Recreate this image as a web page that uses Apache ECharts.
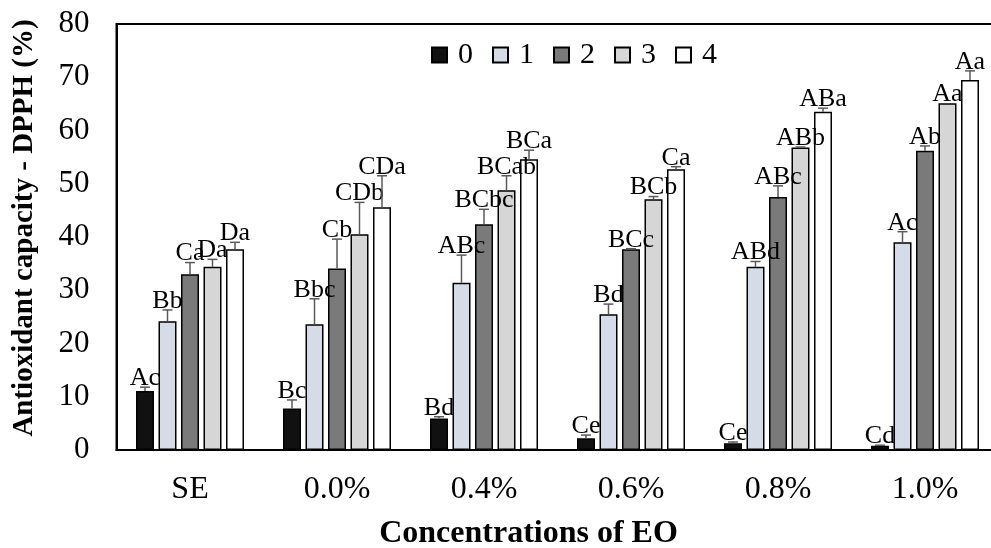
<!DOCTYPE html>
<html>
<head>
<meta charset="utf-8">
<script src="https://cdn.jsdelivr.net/npm/echarts@6/dist/echarts.min.js"></script>
<style>
    html, body { margin: 0; padding: 0; background: #fff; }
    #chart { width: 991px; height: 548px; }
</style>
</head>
<body>
<div id="chart"></div>
<script>
// 数据
const categories = ['SE', '0.0%', '0.4%', '0.6%', '0.8%', '1.0%'];
const levelNames = ['0', '1', '2', '3', '4'];
const yTicks = [0, 10, 20, 30, 40, 50, 60, 70, 80];

const mean0 = [11.1, 7.8, 5.9, 2.2, 1.25, 0.8];
const mean1 = [24.2, 23.6, 31.4, 25.5, 34.4, 39.0];
const mean2 = [33.0, 34.1, 42.4, 37.7, 47.5, 56.2];
const mean3 = [34.4, 40.5, 48.8, 47.1, 56.8, 65.1];
const mean4 = [37.7, 45.6, 54.6, 52.7, 63.5, 69.5];

const sd0 = [0.7, 1.6, 0.35, 0.6, 0.25, 0.1];
const sd1 = [2.1, 4.8, 5.2, 1.9, 1.0, 2.0];
const sd2 = [2.2, 5.5, 2.8, 0.1, 2.1, 0.9];
const sd3 = [1.4, 6.0, 2.7, 0.5, 0.1, 0];
const sd4 = [1.3, 5.9, 1.7, 0.5, 0.7, 1.7];

const letters0 = ['Ac', 'Bc', 'Bd', 'Ce', 'Ce', 'Cd'];
const letters1 = ['Bb', 'Bbc', 'ABc', 'Bd', 'ABd', 'Ac'];
const letters2 = ['Ca', 'Cb', 'BCbc', 'BCc', 'ABc', 'Ab'];
const letters3 = ['Da', 'CDb', 'BCab', 'BCb', 'ABb', 'Aa'];
const letters4 = ['Da', 'CDa', 'BCa', 'Ca', 'ABa', 'Aa'];

const means = [mean0, mean1, mean2, mean3, mean4];
const sds = [sd0, sd1, sd2, sd3, sd4];
const letters = [letters0, letters1, letters2, letters3, letters4];
const colors = ['#111111', '#d5dce8', '#7a7a7a', '#d6d6d6', '#ffffff'];

const FONT = '"Liberation Serif", "Times New Roman", serif';
const BAR_W = 18;
const BAR_STEP = 22.5;

const chart = echarts.init(document.getElementById('chart'));

// 柱子
const barSeries = levelNames.map((name, k) => ({
    name: name,
    type: 'bar',
    barWidth: BAR_W,
    barGap: '25%',
    data: means[k],
    itemStyle: { color: colors[k], borderColor: '#000', borderWidth: 1.5 },
    emphasis: { disabled: true }
}));

// 误差线 + 字母标注
const errSeries = levelNames.map((name, k) => ({
    type: 'custom',
    silent: true,
    z: 5,
    data: categories.map((c, i) => [i, means[k][i], means[k][i] + sds[k][i], letters[k][i]]),
    renderItem: function (params, api) {
        const base = api.coord([api.value(0), api.value(1)]);
        const top = api.coord([api.value(0), api.value(2)]);
        const x = base[0] + (k - 2) * BAR_STEP;
        const children = [];
        if (top[1] < base[1] - 0.5) {
            children.push({
                type: 'line',
                shape: { x1: x, y1: base[1], x2: x, y2: top[1] },
                style: { stroke: '#5a5a5a', lineWidth: 1.5 }
            });
            children.push({
                type: 'line',
                shape: { x1: x - 5, y1: top[1], x2: x + 5, y2: top[1] },
                style: { stroke: '#5a5a5a', lineWidth: 1.5 }
            });
        }
        children.push({
            type: 'text',
            style: {
                text: api.value(3),
                x: x,
                y: top[1] + 4,
                align: 'center',
                verticalAlign: 'bottom',
                fontFamily: FONT,
                fontSize: 26,
                fill: '#000'
            }
        });
        return { type: 'group', children: children };
    }
}));

chart.setOption({
    animation: false,
    grid: {
        left: 116.5, top: 24, width: 882, bottom: 98,
        outerBoundsMode: 'none',
        containLabel: false,
        show: true, borderColor: '#000', borderWidth: 2
    },
    legend: {
        data: levelNames,
        left: 426, top: 35,
        icon: 'rect',
        itemWidth: 15, itemHeight: 15, itemGap: 19,
        textStyle: { fontFamily: FONT, fontSize: 30, color: '#000', padding: [0, 0, 0, 6] }
    },
    xAxis: {
        type: 'category',
        data: categories,
        axisLine: { lineStyle: { color: '#000', width: 2 } },
        axisTick: { show: false },
        axisLabel: { fontFamily: FONT, fontSize: 32, color: '#000', margin: 24 },
        name: 'Concentrations of EO',
        nameLocation: 'middle',
        nameGap: 68,
        nameTextStyle: { fontFamily: FONT, fontSize: 32, fontWeight: 'bold', color: '#000', padding: [0, 58, 0, 0] }
    },
    yAxis: {
        type: 'value',
        min: yTicks[0], max: yTicks[yTicks.length - 1], interval: 10,
        axisLine: { show: true, lineStyle: { color: '#000', width: 2 } },
        axisTick: { show: false },
        splitLine: { show: false },
        axisLabel: { fontFamily: FONT, fontSize: 31, color: '#000', margin: 27 },
        name: 'Antioxidant capacity - DPPH (%)',
        nameLocation: 'middle',
        nameGap: 77,
        nameTextStyle: { fontFamily: FONT, fontSize: 29, fontWeight: 'bold', color: '#000', padding: [0, 0, 0, 18] }
    },
    series: barSeries.concat(errSeries)
});
</script>
</body>
</html>
